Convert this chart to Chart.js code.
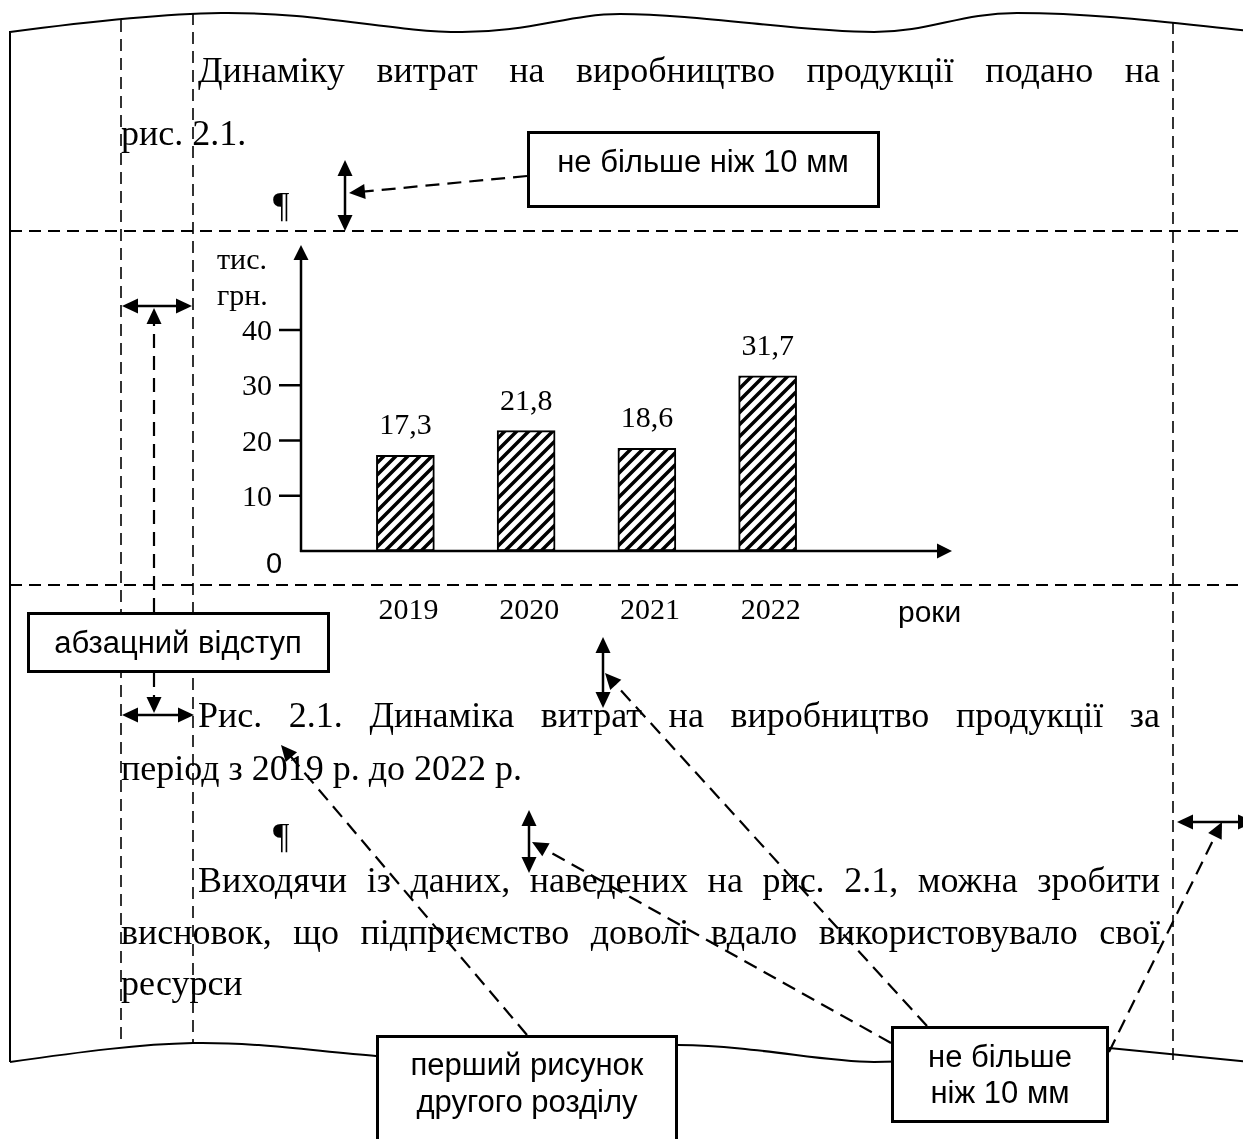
<!DOCTYPE html>
<html lang="uk">
<head>
<meta charset="utf-8">
<title>Рис. 2.1. Динаміка витрат на виробництво продукції</title>
<script src="https://cdn.jsdelivr.net/npm/chart.js@4.4.1/dist/chart.umd.min.js"></script>
<style>
  body { margin: 0; background: #fff; }
  #page { position: relative; width: 1243px; height: 1139px; overflow: hidden; background: #fff; }
  #chart { position: absolute; left: 0; top: 0; z-index: 1; }
  .ln { position: absolute; font-family: 'Liberation Serif', 'Times New Roman', serif; font-size: 36px;
        line-height: 36px; white-space: nowrap; color: #000; z-index: 2; }
  .just { text-align: justify; text-align-last: justify; white-space: normal; }
  #deco { position: absolute; left: 0; top: 0; z-index: 3; }
  .box { position: absolute; box-sizing: border-box; border: 3px solid #000; background: #fff; z-index: 4; }
  .bt { position: absolute; width: 400px; font-family: 'Liberation Sans', Arial, sans-serif; font-size: 31px;
        line-height: 31px; text-align: center; white-space: nowrap; color: #000; z-index: 5; }
</style>
</head>
<body>
<div id="page">
  <canvas id="chart" width="1243" height="1139"></canvas>

  <!-- текст сторінки (top = базова лінія - 30) -->
  <div class="ln just" style="left:198px; top:52px; width:962px;">Динаміку витрат на виробництво продукції подано на</div>
  <div class="ln" style="left:121px; top:115px;">рис. 2.1.</div>
  <div class="ln" style="left:273px; top:187px;">¶</div>

  <div class="ln just" style="left:198px; top:697px; width:962px;">Рис. 2.1. Динаміка витрат на виробництво продукції за</div>
  <div class="ln" style="left:121px; top:750px;">період з 2019 р. до 2022 р.</div>
  <div class="ln" style="left:273px; top:818px;">¶</div>

  <div class="ln just" style="left:198px; top:862px; width:962px;">Виходячи із даних, наведених на рис. 2.1, можна зробити</div>
  <div class="ln just" style="left:121px; top:914px; width:1039px;">висновок, що підприємство доволі вдало використовувало свої</div>
  <div class="ln" style="left:121px; top:965px;">ресурси</div>

  <svg id="deco" width="1243" height="1139" xmlns="http://www.w3.org/2000/svg"></svg>

  <!-- рамки з підписами -->
  <div class="box" style="left:527px; top:131px; width:353px; height:77px;"></div>
  <div class="bt" style="left:503px; top:146px;">не більше ніж 10 мм</div>

  <div class="box" style="left:27px; top:612px; width:303px; height:61px;"></div>
  <div class="bt" style="left:-22px; top:627px;">абзацний відступ</div>

  <div class="box" style="left:376px; top:1035px; width:302px; height:130px;"></div>
  <div class="bt" style="left:327px; top:1049px;">перший рисунок</div>
  <div class="bt" style="left:327px; top:1086px;">другого розділу</div>

  <div class="box" style="left:891px; top:1026px; width:218px; height:97px;"></div>
  <div class="bt" style="left:800px; top:1041px;">не більше</div>
  <div class="bt" style="left:800px; top:1077px;">ніж 10 мм</div>
</div>

<script>
// Дані діаграми
const years = ['2019', '2020', '2021', '2022'];
const costs = [17.3, 21.8, 18.6, 31.7];
const yTicks = [10, 20, 30, 40];
const yUnit = ['тис.', 'грн.'];
const xUnit = 'роки';

const serif = '"Liberation Serif", "Times New Roman", serif';
const sans = '"Liberation Sans", Arial, sans-serif';

// Штриховка стовпців
function makeHatch() {
    const s = 12;
    const c = document.createElement('canvas');
    c.width = s; c.height = s;
    const g = c.getContext('2d');
    g.fillStyle = '#fff';
    g.fillRect(0, 0, s, s);
    g.strokeStyle = '#000';
    g.lineWidth = 3.5;
    g.beginPath();
    g.moveTo(-s, s); g.lineTo(s, -s);
    g.moveTo(-2, s + 2); g.lineTo(s + 2, -2);
    g.moveTo(0, 2 * s); g.lineTo(2 * s, 0);
    g.stroke();
    return g.createPattern(c, 'repeat');
}

function head(ctx, x, y, ang, len, half) {
    ctx.beginPath();
    ctx.moveTo(x, y);
    ctx.lineTo(x - len * Math.cos(ang) + half * Math.sin(ang), y - len * Math.sin(ang) - half * Math.cos(ang));
    ctx.lineTo(x - len * Math.cos(ang) - half * Math.sin(ang), y - len * Math.sin(ang) + half * Math.cos(ang));
    ctx.closePath();
    ctx.fill();
}

// Осі зі стрілками, поділки та підписи
const axisDecor = {
    id: 'axisDecor',
    afterDatasetsDraw(chart) {
        const { ctx, scales: { x, y } } = chart;
        const ax = 301;
        const y0 = y.getPixelForValue(0);
        ctx.save();
        ctx.strokeStyle = '#000';
        ctx.fillStyle = '#000';
        ctx.lineWidth = 2.5;

        ctx.beginPath();
        ctx.moveTo(ax, y0 + 1);
        ctx.lineTo(ax, 258);
        ctx.moveTo(ax - 1, y0);
        ctx.lineTo(938, y0);
        ctx.stroke();
        head(ctx, ax, 245, -Math.PI / 2, 15, 7.5);
        head(ctx, 952, y0, 0, 15, 7.5);

        ctx.font = '30px ' + serif;
        ctx.textAlign = 'right';
        yTicks.forEach(t => {
            const py = y.getPixelForValue(t);
            ctx.beginPath();
            ctx.moveTo(279, py);
            ctx.lineTo(ax, py);
            ctx.stroke();
            ctx.fillText(String(t), 272, py + 10);
        });

        ctx.textAlign = 'left';
        ctx.fillText(yUnit[0], 217, 269);
        ctx.fillText(yUnit[1], 217, 305);

        ctx.font = '29px ' + sans;
        ctx.textAlign = 'center';
        ctx.fillText('0', 274, 573);

        // значення над стовпцями і роки під віссю
        const meta = chart.getDatasetMeta(0);
        ctx.font = '30px ' + serif;
        meta.data.forEach((bar, i) => {
            ctx.fillText(costs[i].toFixed(1).replace('.', ','), bar.x, bar.y - 21);
            ctx.fillText(years[i], x.getPixelForValue(i) + 3, 619);
        });

        ctx.font = '30px ' + sans;
        ctx.textAlign = 'left';
        ctx.fillText(xUnit, 898, 622);
        ctx.restore();
    }
};

new Chart(document.getElementById('chart'), {
    type: 'bar',
    data: {
        labels: years,
        datasets: [{
            data: costs,
            backgroundColor: makeHatch(),
            borderColor: '#000',
            borderWidth: 2,
            borderSkipped: false,
            barThickness: 58
        }]
    },
    options: {
        responsive: false,
        animation: false,
        layout: { padding: { left: 345, right: 415, top: 330, bottom: 588 } },
        scales: {
            x: { display: false, offset: true },
            y: { display: false, min: 0, max: 40 }
        },
        plugins: {
            legend: { display: false },
            tooltip: { enabled: false }
        }
    },
    plugins: [axisDecor]
});

// Оформлення сторінки: край аркуша, допоміжні лінії, стрілки
const svg = document.getElementById('deco');
const NS = 'http://www.w3.org/2000/svg';

function el(tag, attrs) {
    const e = document.createElementNS(NS, tag);
    for (const k in attrs) e.setAttribute(k, attrs[k]);
    svg.appendChild(e);
    return e;
}

function tri(x, y, ang, len, half) {
    const bx = x - len * Math.cos(ang), by = y - len * Math.sin(ang);
    const px = half * Math.sin(ang), py = half * Math.cos(ang);
    el('polygon', { points: `${x},${y} ${bx + px},${by - py} ${bx - px},${by + py}`, fill: '#000' });
}

function arrow(x1, y1, x2, y2, opt) {
    const o = Object.assign({ w: 2.5, dash: null, both: false, len: 16, half: 7.5 }, opt);
    const ang = Math.atan2(y2 - y1, x2 - x1);
    const sx = o.both ? x1 + (o.len - 2) * Math.cos(ang) : x1;
    const sy = o.both ? y1 + (o.len - 2) * Math.sin(ang) : y1;
    const ex = x2 - (o.len - 2) * Math.cos(ang);
    const ey = y2 - (o.len - 2) * Math.sin(ang);
    const a = { x1: sx, y1: sy, x2: ex, y2: ey, stroke: '#000', 'stroke-width': o.w };
    if (o.dash) a['stroke-dasharray'] = o.dash;
    el('line', a);
    tri(x2, y2, ang, o.len, o.half);
    if (o.both) tri(x1, y1, ang + Math.PI, o.len, o.half);
}

// край аркуша
el('path', {
    d: 'M10,1062 L10,32 C70,24 150,14 221,13 C320,12 390,32 462,32 C530,32 570,14 620,14 ' +
       'C700,14 800,32 874,32 C930,32 960,13 1017,13 C1100,13 1180,24 1250,31',
    fill: 'none', stroke: '#000', 'stroke-width': 2
});
el('path', {
    d: 'M10,1062 C80,1052 140,1044 193,1043 C260,1042 320,1052 376,1056 C450,1060 600,1045 678,1045 ' +
       'C760,1046 820,1062 874,1062 C950,1062 1050,1048 1109,1048 L1250,1062',
    fill: 'none', stroke: '#000', 'stroke-width': 2
});

// допоміжні штрихові лінії
const guide = { stroke: '#000', 'stroke-width': 1.6, 'stroke-dasharray': '12 7' };
el('line', Object.assign({ x1: 121, y1: 20, x2: 121, y2: 1046 }, guide));
el('line', Object.assign({ x1: 193, y1: 13, x2: 193, y2: 1043 }, guide));
el('line', Object.assign({ x1: 1173, y1: 22, x2: 1173, y2: 1062 }, guide));
el('line', Object.assign({ x1: 10, y1: 231, x2: 1250, y2: 231 }, guide, { 'stroke-width': 2 }));
el('line', Object.assign({ x1: 10, y1: 585, x2: 1250, y2: 585 }, guide, { 'stroke-width': 2 }));

// подвійні стрілки (відстані)
arrow(345, 160, 345, 231, { both: true });
arrow(603, 637, 603, 708, { both: true });
arrow(529, 810, 529, 873, { both: true });
arrow(122, 306, 192, 306, { both: true });
arrow(122, 715, 194, 715, { both: true });
arrow(1177, 822, 1254, 822, { both: true });

// штрихові вказівники від рамок
const dsh = { dash: '14 8', w: 2.2 };
arrow(527, 176, 349, 193, dsh);
arrow(527, 1035, 281, 745, dsh);
arrow(927, 1026, 605, 673, dsh);
arrow(891, 1043, 532, 842, dsh);
arrow(1109, 1052, 1222, 822, dsh);
arrow(154, 612, 154, 308, dsh);
arrow(154, 673, 154, 713, dsh);
</script>
</body>
</html>
